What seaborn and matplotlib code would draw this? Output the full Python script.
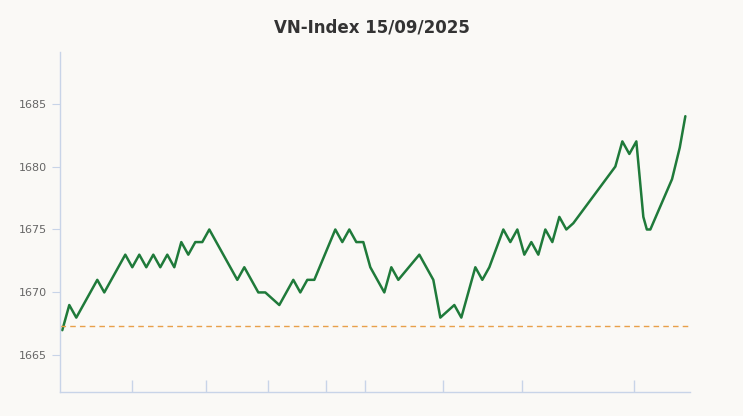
import matplotlib
matplotlib.use("Agg")
import matplotlib.pyplot as plt
import seaborn as sns
import pandas as pd

# Data (time step index, index level)
steps = [0, 1, 2, 5, 6, 9, 10, 11, 12, 13, 14, 15, 16, 17, 18, 19, 20, 21, 25, 26, 28, 29, 31,
         33, 34, 35, 36, 39, 40, 41, 42, 43, 44, 46, 47, 48, 51, 52, 53, 54, 56, 57, 58, 59, 60,
         61, 63, 64, 65, 66, 67, 68, 69, 70, 71, 72, 73, 79, 80, 81, 82, 83, 83.5, 84, 87.1, 88.2, 89]
values = [1667, 1669, 1668, 1671, 1670, 1673, 1672, 1673, 1672, 1673, 1672, 1673, 1672, 1674,
          1673, 1674, 1674, 1675, 1671, 1672, 1670, 1670, 1669, 1671, 1670, 1671, 1671, 1675,
          1674, 1675, 1674, 1674, 1672, 1670, 1672, 1671, 1673, 1672, 1671, 1668, 1669, 1668,
          1670, 1672, 1671, 1672, 1675, 1674, 1675, 1673, 1674, 1673, 1675, 1674, 1676, 1675,
          1675.5, 1680, 1682, 1681, 1682, 1676, 1675, 1675, 1679, 1681.5, 1684]
reference_level = 1667.3
y_ticks = [1665, 1670, 1675, 1680, 1685]
x_ticks = [9.9, 20.6, 29.4, 37.7, 43.3, 54.4, 65.6, 81.7]

df = pd.DataFrame({"step": steps, "value": values})

sns.set_style("white")
bg = "#faf9f6"
fig = plt.figure(figsize=(7.43, 4.16), dpi=100, facecolor=bg)
ax = fig.add_axes([0.081, 0.058, 0.848, 0.817])
ax.set_facecolor(bg)

sns.lineplot(data=df, x="step", y="value", ax=ax, color="#1f7a3a", linewidth=1.8)
ax.lines[0].set_solid_joinstyle("round")
ax.axhline(reference_level, color="#e8a04a", linestyle=(0, (4, 3)), linewidth=1)

ax.set_xlim(-0.3, 89.7)
ax.set_ylim(1662.1, 1689.1)
ax.set_yticks(y_ticks)
ax.set_xticks(x_ticks)
ax.set_xticklabels([])
ax.tick_params(axis="y", left=True, labelsize=8, labelcolor="#666666", length=6, color="#c8d4e8")
ax.tick_params(axis="x", bottom=True, length=9, width=1, color="#c8d4e8", direction="in")
ax.set_xlabel("")
ax.set_ylabel("")
for side in ["top", "right"]:
    ax.spines[side].set_visible(False)
for side in ["left", "bottom"]:
    ax.spines[side].set_color("#c8d4e8")
    ax.spines[side].set_linewidth(1)

fig.suptitle("VN-Index 15/09/2025", y=0.955, fontsize=12, fontweight="bold", color="#333333")
fig.savefig("out.png", dpi=100, facecolor=bg)
